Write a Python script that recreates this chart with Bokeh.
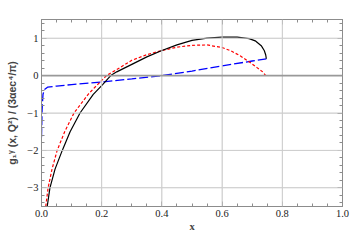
from bokeh.plotting import figure
from bokeh.models import LinearAxis, FixedTicker, Span, Range1d
from bokeh.embed import file_html
from bokeh.resources import INLINE

# black solid curve
black_x = [0.019, 0.028, 0.045, 0.069, 0.095, 0.128, 0.172, 0.2, 0.23, 0.25, 0.3, 0.35, 0.4, 0.45,
           0.5, 0.55, 0.6, 0.65, 0.69, 0.71, 0.73, 0.74, 0.745, 0.747]
black_y = [-3.5, -3.0, -2.5, -2.0, -1.5, -1.0, -0.5, -0.27, 0.0, 0.1, 0.3, 0.5, 0.67, 0.82,
           0.94, 1.0, 1.03, 1.03, 0.99, 0.93, 0.8, 0.67, 0.55, 0.45]
# red dashed curve
red_x = [0.014, 0.022, 0.035, 0.052, 0.077, 0.108, 0.155, 0.185, 0.216, 0.25, 0.3, 0.35, 0.4,
         0.45, 0.5, 0.55, 0.6, 0.63, 0.66, 0.69, 0.715, 0.735, 0.745]
red_y = [-3.5, -3.0, -2.5, -2.0, -1.5, -1.0, -0.5, -0.25, 0.0, 0.16, 0.41, 0.56, 0.67,
         0.76, 0.81, 0.82, 0.75, 0.66, 0.53, 0.37, 0.22, 0.1, 0.0]
# blue long-dashed curve
blue_x = [0.0, 0.002, 0.005, 0.01, 0.02, 0.05, 0.1, 0.2, 0.3, 0.4, 0.5, 0.6, 0.7, 0.747]
blue_y = [-1.65, -0.9, -0.5, -0.37, -0.31, -0.28, -0.24, -0.17, -0.09, 0.0, 0.12, 0.26, 0.39, 0.45]

x_ticks = [0.0, 0.2, 0.4, 0.6, 0.8, 1.0]
x_tick_labels = ["0.0", "0.2", "0.4", "0.6", "0.8", "1.0"]
y_ticks = [-3, -2, -1, 0, 1]
y_tick_labels = ["\u22123", "\u22122", "\u22121", "0", "1"]
x_minor = [i * 0.05 for i in range(21)]
y_minor = [-3.4 + i * 0.2 for i in range(25)]

GRAY = "#8c8c8c"
SERIF = "Liberation Serif"

p = figure(width=360, height=240, output_backend="svg", toolbar_location=None,
           x_range=Range1d(0, 1), y_range=Range1d(-3.5, 1.5),
           x_axis_location=None, y_axis_location=None,
           min_border_left=41, min_border_right=18, min_border_top=19, min_border_bottom=34)
p.background_fill_color = "white"
p.border_fill_color = "white"
p.outline_line_color = GRAY
p.outline_line_width = 1

def style_axis(ax, ticks, minor, labels, show):
    ax.ticker = FixedTicker(ticks=ticks, minor_ticks=minor)
    ax.axis_line_color = GRAY
    ax.major_tick_line_color = GRAY
    ax.minor_tick_line_color = GRAY
    ax.major_tick_in = 5
    ax.major_tick_out = 0
    ax.minor_tick_in = 3
    ax.minor_tick_out = 0
    if show:
        ax.major_label_overrides = {t: l for t, l in zip(ticks, labels)}
        ax.major_label_text_font = SERIF
        ax.major_label_text_font_size = "10.5px"
        ax.major_label_text_color = "#222222"
        ax.major_label_standoff = 3
    else:
        ax.major_label_overrides = {t: "" for t in ticks}
        ax.major_label_text_font_size = "0px"
        ax.major_label_standoff = 0

xb = LinearAxis(axis_label="x", axis_label_text_font=SERIF, axis_label_text_font_style="bold",
                axis_label_text_font_size="10.5px", axis_label_standoff=1)
style_axis(xb, x_ticks, x_minor, x_tick_labels, True)
p.add_layout(xb, "below")

yl = LinearAxis(axis_label="g\u2081\u1d5e (x, Q\u00b2) / (3\u03b1ec\u2074/\u03c0)",
                axis_label_text_font="Liberation Sans", axis_label_text_font_style="bold",
                axis_label_text_font_size="10.5px", axis_label_standoff=6)
style_axis(yl, y_ticks, y_minor, y_tick_labels, True)
p.add_layout(yl, "left")

xt = LinearAxis()
style_axis(xt, x_ticks, x_minor, x_tick_labels, False)
p.add_layout(xt, "above")
yr = LinearAxis()
style_axis(yr, y_ticks, y_minor, y_tick_labels, False)
p.add_layout(yr, "right")

# grid lines
for t in [0.2, 0.4, 0.6, 0.8]:
    p.add_layout(Span(location=t, dimension="height", line_color="#cccccc", line_width=1))
for t in [-3, -2, -1, 1]:
    p.add_layout(Span(location=t, dimension="width", line_color="#cccccc", line_width=1))
p.add_layout(Span(location=0, dimension="width", line_color="#999999", line_width=1.6))

p.line(blue_x, blue_y, line_color="#0000ff", line_width=1.3, line_dash="9 3")
p.line(red_x, red_y, line_color="#ff0000", line_width=1.2, line_dash="3 2")
p.line(black_x, black_y, line_color="#000000", line_width=1.2)

open("out.html", "w").write(file_html(p, INLINE))
